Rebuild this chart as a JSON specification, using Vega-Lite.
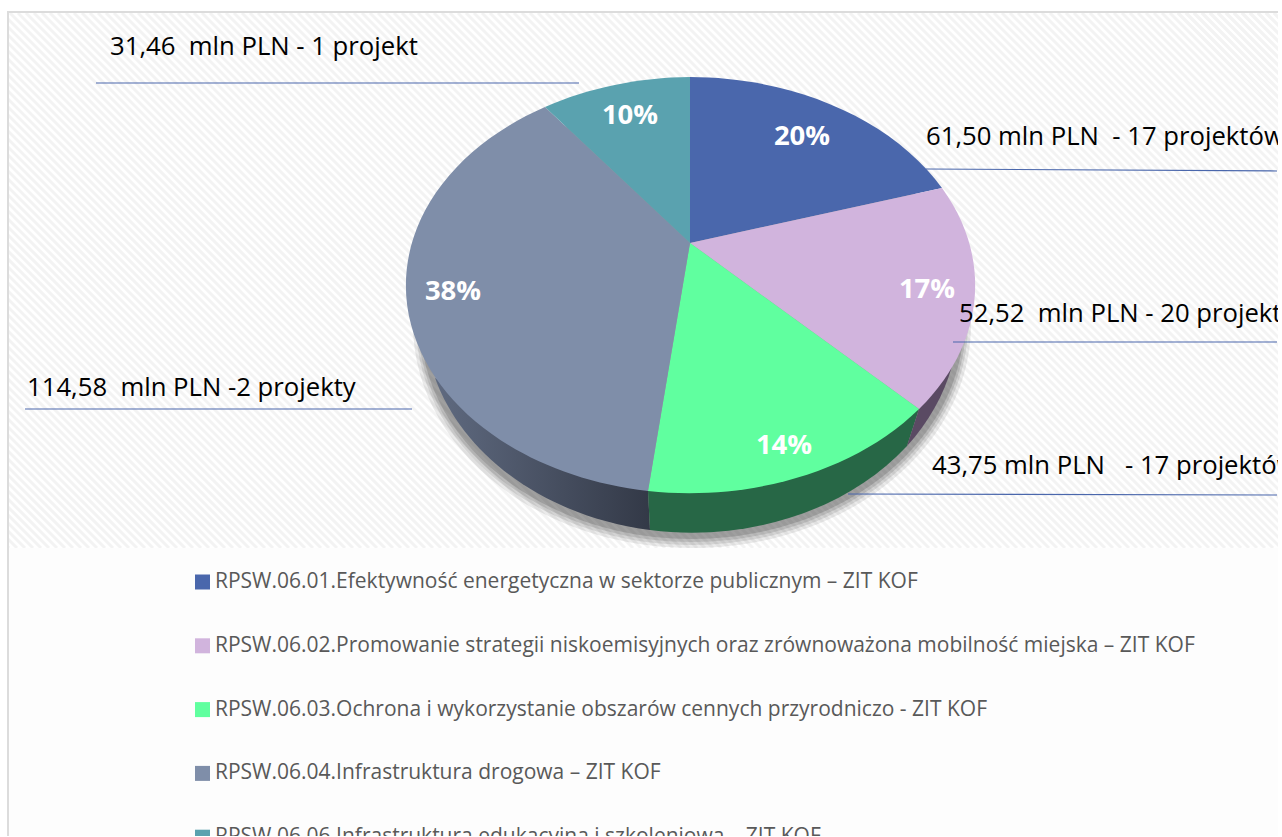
{"$schema":"https://vega.github.io/schema/vega-lite/v6.json","width":1278,"height":836,"autosize":{"type":"none"},"padding":0,"background":"white","config":{"view":{"stroke":null}},
"datasets":{"tlo":[{"warstwa":"tlo"}],"dane":[
{"kategoria":"RPSW.06.01.Efektywność energetyczna w sektorze publicznym – ZIT KOF","procent":"20%","etykieta":"61,50 mln PLN \u00a0- 17 projektów","klucz":"a"},
{"kategoria":"RPSW.06.02.Promowanie strategii niskoemisyjnych oraz zrównoważona mobilność miejska – ZIT KOF","procent":"17%","etykieta":"52,52 \u00a0mln PLN - 20 projektów","klucz":"b"},
{"kategoria":"RPSW.06.03.Ochrona i wykorzystanie obszarów cennych przyrodniczo - ZIT KOF","procent":"14%","etykieta":"43,75 mln PLN \u00a0 - 17 projektów","klucz":"c"},
{"kategoria":"RPSW.06.04.Infrastruktura drogowa – ZIT KOF","procent":"38%","etykieta":"114,58 \u00a0mln PLN -2 projekty","klucz":"d"},
{"kategoria":"RPSW.06.06.Infrastruktura edukacyjna i szkoleniowa – ZIT KOF","procent":"10%","etykieta":"31,46 \u00a0mln PLN - 1 projekt","klucz":"e"}]},
"resolve":{"scale":{"shape":"independent"}},
"layer":[
{"data":{"name":"tlo"},"mark":{"type":"point","filled":false,"opacity":1,"size":4,"stroke":"#f3f3f3","strokeWidth":3,"shape":"M-1165 -405l535 535m-527-535l535 535m-527-535l535 535m-527-535l535 535m-527-535l535 535m-527-535l535 535m-527-535l535 535m-527-535l535 535m-527-535l535 535m-527-535l535 535m-527-535l535 535m-527-535l535 535m-527-535l535 535m-527-535l535 535m-527-535l535 535m-527-535l535 535m-527-535l535 535m-527-535l535 535m-527-535l535 535m-527-535l535 535m-527-535l535 535m-527-535l535 535m-527-535l535 535m-527-535l535 535m-527-535l535 535m-527-535l535 535m-527-535l535 535m-527-535l535 535m-527-535l535 535m-527-535l535 535m-527-535l535 535m-527-535l535 535m-527-535l535 535m-527-535l535 535m-527-535l535 535m-527-535l535 535m-527-535l535 535m-527-535l535 535m-527-535l535 535m-527-535l535 535m-527-535l535 535m-527-535l535 535m-527-535l535 535m-527-535l535 535m-527-535l535 535m-527-535l535 535m-527-535l535 535m-527-535l535 535m-527-535l535 535m-527-535l535 535m-527-535l535 535m-527-535l535 535m-527-535l535 535m-527-535l535 535m-527-535l535 535m-527-535l535 535m-527-535l535 535m-527-535l535 535m-527-535l535 535m-527-535l535 535m-527-535l535 535m-527-535l535 535m-527-535l535 535m-527-535l535 535m-527-535l535 535m-527-535l535 535m-527-535l535 535m-527-535l535 535m-527-535l535 535m-527-535l535 535m-527-535l535 535m-527-535l535 535m-527-535l535 535m-527-535l535 535m-527-535l535 535m-527-535l535 535m-527-535l535 535m-527-535l535 535m-527-535l535 535m-527-535l535 535m-527-535l535 535m-527-535l535 535m-527-535l535 535m-527-535l535 535m-527-535l535 535m-527-535l535 535m-527-535l535 535m-527-535l535 535m-527-535l535 535m-527-535l535 535m-527-535l535 535m-527-535l535 535m-527-535l535 535m-527-535l535 535m-527-535l535 535m-527-535l535 535m-527-535l535 535m-527-535l535 535m-527-535l535 535m-527-535l535 535m-527-535l535 535m-527-535l535 535m-527-535l535 535m-527-535l535 535m-527-535l535 535m-527-535l535 535m-527-535l535 535m-527-535l535 535m-527-535l535 535m-527-535l535 535m-527-535l535 535m-527-535l535 535m-527-535l535 535m-527-535l535 535m-527-535l535 535m-527-535l535 535m-527-535l535 535m-527-535l535 535m-527-535l535 535m-527-535l535 535m-527-535l535 535m-527-535l535 535m-527-535l535 535m-527-535l535 535m-527-535l535 535m-527-535l535 535m-527-535l535 535m-527-535l535 535m-527-535l535 535m-527-535l535 535m-527-535l535 535m-527-535l535 535m-527-535l535 535m-527-535l535 535m-527-535l535 535m-527-535l535 535m-527-535l535 535m-527-535l535 535m-527-535l535 535m-527-535l535 535m-527-535l535 535m-527-535l535 535m-527-535l535 535m-527-535l535 535m-527-535l535 535m-527-535l535 535m-527-535l535 535m-527-535l535 535m-527-535l535 535m-527-535l535 535m-527-535l535 535m-527-535l535 535m-527-535l535 535m-527-535l535 535m-527-535l535 535m-527-535l535 535m-527-535l535 535m-527-535l535 535m-527-535l535 535m-527-535l535 535m-527-535l535 535m-527-535l535 535m-527-535l535 535m-527-535l535 535m-527-535l535 535m-527-535l535 535m-527-535l535 535m-527-535l535 535m-527-535l535 535m-527-535l535 535m-527-535l535 535m-527-535l535 535m-527-535l535 535m-527-535l535 535m-527-535l535 535m-527-535l535 535m-527-535l535 535m-527-535l535 535m-527-535l535 535m-527-535l535 535m-527-535l535 535m-527-535l535 535m-527-535l535 535m-527-535l535 535m-527-535l535 535m-527-535l535 535m-527-535l535 535m-527-535l535 535m-527-535l535 535m-527-535l535 535m-527-535l535 535m-527-535l535 535m-527-535l535 535m-527-535l535 535m-527-535l535 535m-527-535l535 535m-527-535l535 535m-527-535l535 535m-527-535l535 535m-527-535l535 535m-527-535l535 535m-527-535l535 535m-527-535l535 535m-527-535l535 535m-527-535l535 535m-527-535l535 535m-527-535l535 535m-527-535l535 535m-527-535l535 535m-527-535l535 535m-527-535l535 535m-527-535l535 535m-527-535l535 535m-527-535l535 535m-527-535l535 535m-527-535l535 535m-527-535l535 535m-527-535l535 535m-527-535l535 535m-527-535l535 535m-527-535l535 535m-527-535l535 535m-527-535l535 535m-527-535l535 535m-527-535l535 535m-527-535l535 535m-527-535l535 535m-527-535l535 535m-527-535l535 535m-527-535l535 535m-527-535l535 535m-527-535l535 535m-527-535l535 535m-527-535l535 535m-527-535l535 535m-527-535l535 535m-527-535l535 535m-527-535l535 535m-527-535l535 535m-527-535l535 535m-527-535l535 535m-527-535l535 535m-527-535l535 535m-527-535l535 535m-527-535l535 535m-527-535l535 535m-527-535l535 535m-527-535l535 535m-527-535l535 535m-527-535l535 535m-527-535l535 535m-527-535l535 535m-527-535l535 535m-527-535l535 535m-527-535l535 535m-527-535l535 535m-527-535l535 535m-527-535l535 535"},"encoding":{}},
{"data":{"name":"tlo"},"mark":{"type":"point","filled":false,"opacity":1,"size":4,"stroke":"#f3f3f3","strokeWidth":3,"shape":"M539 -405l535 535m-527-535l535 535m-527-535l535 535m-527-535l535 535m-527-535l535 535m-527-535l535 535m-527-535l535 535m-527-535l535 535m-527-535l535 535m-527-535l535 535m-527-535l535 535m-527-535l535 535m-527-535l535 535m-527-535l535 535"},"encoding":{}},
{"data":{"name":"tlo"},"mark":{"type":"point","filled":true,"opacity":1,"size":4,"fill":"#fdfdfd","shape":"M-639 130H639V418H-639Z"},"encoding":{}},
{"data":{"name":"tlo"},"mark":{"type":"point","filled":true,"opacity":1,"size":4,"fill":"white","shape":"M-639 -418H639V-406H-630V418H-639Z"},"encoding":{}},
{"data":{"name":"tlo"},"mark":{"type":"point","filled":false,"opacity":1,"size":4,"stroke":"#dcdcdc","strokeWidth":2,"shape":"M-631 418V-406H639"},"encoding":{}},
{"data":{"name":"tlo"},"mark":{"type":"point","filled":true,"opacity":0.1,"size":4,"fill":"#333333","shape":"M-226 -94A279 224 0 1 1 332 -94A279 224 0 1 1 -226 -94Z"},"encoding":{}},
{"data":{"name":"tlo"},"mark":{"type":"point","filled":true,"opacity":0.12,"size":4,"fill":"#333333","shape":"M-223 -95A276 222 0 1 1 329 -95A276 222 0 1 1 -223 -95Z"},"encoding":{}},
{"data":{"name":"tlo"},"mark":{"type":"point","filled":true,"opacity":0.15,"size":4,"fill":"#333333","shape":"M-221 -96A274 220 0 1 1 327 -96A274 220 0 1 1 -221 -96Z"},"encoding":{}},
{"data":{"name":"tlo"},"mark":{"type":"point","filled":true,"opacity":0.2,"size":4,"fill":"#333333","shape":"M-219 -97A272 218 0 1 1 325 -97A272 218 0 1 1 -219 -97Z"},"encoding":{}},
{"data":{"name":"tlo"},"mark":{"type":"point","filled":true,"opacity":1,"size":4,"fill":{"gradient":"linear","x1":0,"y1":0,"x2":1,"y2":0,"stops":[{"offset":0,"color":"#5f6a80"},{"offset":1,"color":"#333947"}]},"shape":"M9 73L11 112A268 215 0 0 1 -204 -40L9 73Z"},"encoding":{}},
{"data":{"name":"tlo"},"mark":{"type":"point","filled":true,"opacity":1,"size":4,"fill":"#276746","shape":"M9 73L11 112A268 215 0 0 0 268 28L280 -9Z"},"encoding":{}},
{"data":{"name":"tlo"},"mark":{"type":"point","filled":true,"opacity":1,"size":4,"fill":"#5a4a63","shape":"M280 -9L268 28A268 215 0 0 0 313 -52Z"},"encoding":{}},
{"data":{"name":"dane"},"mark":{"type":"point","filled":true,"opacity":1,"size":4},"encoding":{
"color":{"field":"kategoria","type":"nominal","sort":null,"scale":{"range":["#4a67ac","#d1b4dd","#60ff9f","#7f8ea9","#5aa2af"]},"legend":{"title":null,"orient":"none","legendX":192,"legendY":571.5,"symbolType":"square","symbolSize":225,"symbolStrokeWidth":0,"symbolOpacity":1,"labelFont":"Open Sans","labelFontSize":21,"labelColor":"#595959","labelLimit":1100,"labelOffset":2,"rowPadding":41.8}},
"shape":{"field":"kategoria","type":"nominal","sort":null,"legend":null,"scale":{"range":["M51 -175L51 -341A286 208 0 0 1 303 -230Z","M51 -175L303 -230A286 208 0 0 1 280 -9Z","M51 -175L280 -9A286 208 0 0 1 9 73Z","M51 -175L9 73A286 208 0 0 1 -94 -311Z","M51 -175L-94 -311A286 208 0 0 1 51 -341Z"]}}}},
{"data":{"name":"dane"},"mark":{"type":"point","filled":false,"opacity":1,"size":4,"stroke":"#4a67ac","strokeWidth":1.2},"encoding":{
"shape":{"field":"klucz","type":"nominal","legend":null,"scale":{"domain":["a","b","c","d","e"],"range":["M287 -249L638 -247","M314 -76H638","M209 76L638 77","M-614 -9H-227","M-543 -335H-60"]}}}},
{"data":{"name":"dane"},"transform":[{"filter":"datum.klucz=='a'"}],"layer":[
{"mark":{"type":"text","font":"Open Sans","fontSize":25.7,"color":"black","align":"left","dx":287,"dy":-281},"encoding":{"text":{"field":"etykieta"}}},
{"mark":{"type":"text","font":"Open Sans","fontWeight":"bold","fontSize":27.5,"color":"white","align":"center","dx":163,"dy":-281},"encoding":{"text":{"field":"procent"}}}]},
{"data":{"name":"dane"},"transform":[{"filter":"datum.klucz=='b'"}],"layer":[
{"mark":{"type":"text","font":"Open Sans","fontWeight":"bold","fontSize":27.5,"color":"white","align":"center","dx":288,"dy":-128},"encoding":{"text":{"field":"procent"}}},
{"mark":{"type":"text","font":"Open Sans","fontSize":25.7,"color":"black","align":"left","dx":320,"dy":-104},"encoding":{"text":{"field":"etykieta"}}}]},
{"data":{"name":"dane"},"transform":[{"filter":"datum.klucz=='c'"}],"layer":[
{"mark":{"type":"text","font":"Open Sans","fontSize":25.7,"color":"black","align":"left","dx":293,"dy":48},"encoding":{"text":{"field":"etykieta"}}},
{"mark":{"type":"text","font":"Open Sans","fontWeight":"bold","fontSize":27.5,"color":"white","align":"center","dx":145,"dy":28},"encoding":{"text":{"field":"procent"}}}]},
{"data":{"name":"dane"},"transform":[{"filter":"datum.klucz=='d'"}],"layer":[
{"mark":{"type":"text","font":"Open Sans","fontSize":25.7,"color":"black","align":"left","dx":-612,"dy":-30},"encoding":{"text":{"field":"etykieta"}}},
{"mark":{"type":"text","font":"Open Sans","fontWeight":"bold","fontSize":27.5,"color":"white","align":"center","dx":-186,"dy":-126},"encoding":{"text":{"field":"procent"}}}]},
{"data":{"name":"dane"},"transform":[{"filter":"datum.klucz=='e'"}],"layer":[
{"mark":{"type":"text","font":"Open Sans","fontSize":25.7,"color":"black","align":"left","dx":-529,"dy":-371},"encoding":{"text":{"field":"etykieta"}}},
{"mark":{"type":"text","font":"Open Sans","fontWeight":"bold","fontSize":27.5,"color":"white","align":"center","dx":-9,"dy":-302},"encoding":{"text":{"field":"procent"}}}]}
]}
